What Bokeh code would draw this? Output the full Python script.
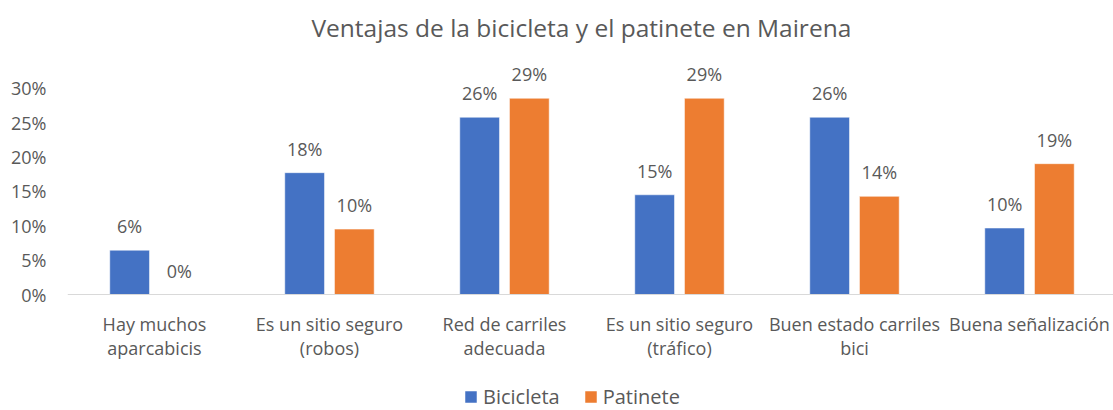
from bokeh.plotting import figure
from bokeh.models import (ColumnDataSource, Range1d, NumeralTickFormatter,
                          FixedTicker, Legend, LegendItem, Span, Label)
from bokeh.transform import dodge
from bokeh.core.properties import value
from bokeh.embed import file_html
from bokeh.resources import INLINE

title_text = "Ventajas de la bicicleta y el patinete en Mairena"
categories = ["Hay muchos\naparcabicis", "Es un sitio seguro\n(robos)", "Red de carriles\nadecuada",
              "Es un sitio seguro\n(tráfico)", "Buen estado carriles\nbici", "Buena señalización"]
bicicleta = [0.0645, 0.1774, 0.2581, 0.1452, 0.2581, 0.0968]
patinete = [0.0, 0.0952, 0.2857, 0.2857, 0.1429, 0.1905]
series_names = ["Bicicleta", "Patinete"]
y_ticks = [0.0, 0.05, 0.10, 0.15, 0.20, 0.25, 0.30]

BLUE = "#4472C4"
ORANGE = "#ED7D31"
GREY = "#595959"
FONT = "Open Sans"

lines = [c.split("\n") for c in categories]
src = ColumnDataSource(dict(
    x=list(range(len(categories))),
    bic=bicicleta,
    pat=patinete,
    bic_label=[f"{round(v * 100):.0f}%" for v in bicicleta],
    pat_label=[f"{round(v * 100):.0f}%" for v in patinete],
    line1=[l[0] for l in lines],
    line2=[l[1] if len(l) > 1 else "" for l in lines],
    zero=[0.0] * len(categories),
))

p = figure(title=None, x_range=Range1d(-0.497, 5.48), y_range=Range1d(-0.1689, 0.4281),
           width=1113, height=410, output_backend="svg", toolbar_location=None,
           min_border_left=67, min_border_right=0, min_border_top=0, min_border_bottom=0)

# chart title (placed in the empty band above the bars)
p.add_layout(Label(x=0.897, y=0.3895, text=title_text, text_align="left", text_baseline="middle",
                   text_font=FONT, text_font_size="24.5px", text_color=GREY))

off = 0.142
bw = 0.227
r1 = p.vbar(x=dodge("x", -off), top="bic", width=bw, source=src,
            fill_color=BLUE, line_color="white", line_alpha=0.5, line_width=1)
r2 = p.vbar(x=dodge("x", off), top="pat", width=bw, source=src,
            fill_color=ORANGE, line_color="white", line_alpha=0.5, line_width=1)

for col, lab, d in (("bic", "bic_label", -off), ("pat", "pat_label", off)):
    p.text(x=dodge("x", d), y=col, text=lab,
           source=src, text_align="center", text_baseline="middle", y_offset=-24,
           text_font=value(FONT), text_font_size="18px", text_color=GREY)

# baseline (category axis line)
p.add_layout(Span(location=0, dimension="width", line_color="#D9D9D9", line_width=1.2))

# category labels under the baseline
for col, dy in (("line1", 29), ("line2", 53)):
    p.text(x="x", y="zero", text=col, source=src, text_align="center", text_baseline="middle",
           y_offset=dy, text_font=value(FONT), text_font_size="18px", text_color=GREY)

p.xgrid.grid_line_color = None
p.ygrid.grid_line_color = None
p.outline_line_color = None
p.xaxis.visible = False

p.yaxis.ticker = FixedTicker(ticks=y_ticks)
p.yaxis.formatter = NumeralTickFormatter(format="0%")
p.yaxis.axis_line_color = None
p.yaxis.major_tick_line_color = None
p.yaxis.minor_tick_line_color = None
p.yaxis.major_label_standoff = 15
p.yaxis.major_label_text_font = FONT
p.yaxis.major_label_text_font_size = "18px"
p.yaxis.major_label_text_color = GREY

legend = Legend(items=[LegendItem(label=series_names[0], renderers=[r1]),
                       LegendItem(label=series_names[1], renderers=[r2])],
                orientation="horizontal", location=(396, 0),
                border_line_color=None, background_fill_alpha=0,
                label_text_font=FONT, label_text_font_size="20px", label_text_color=GREY,
                glyph_width=15, glyph_height=15, spacing=23, padding=0, margin=0,
                label_standoff=5)
p.add_layout(legend)

open("out.html", "w").write(file_html(p, INLINE))
